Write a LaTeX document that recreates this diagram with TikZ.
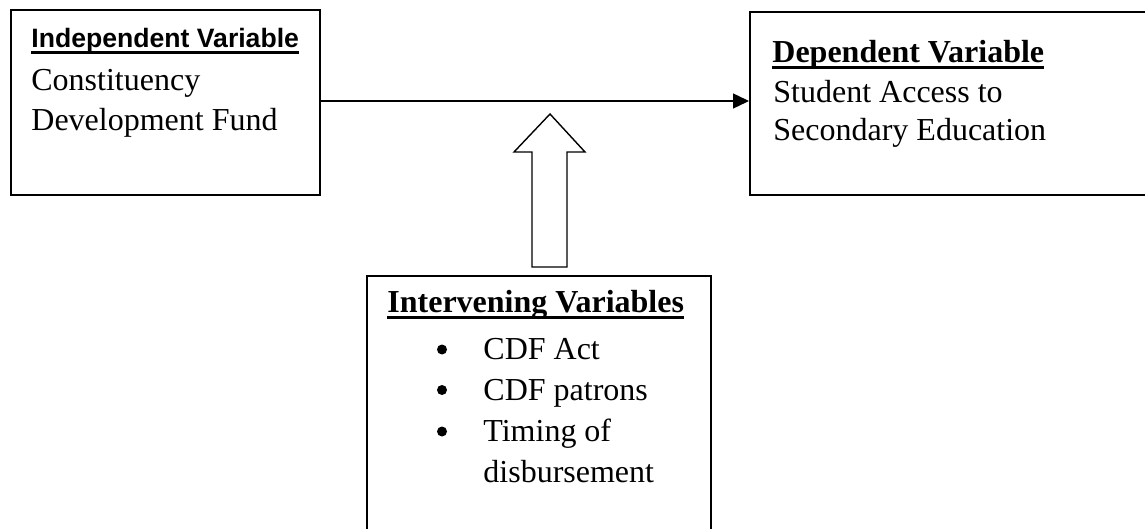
\documentclass[tikz,border=0pt]{standalone}
\usepackage{fontspec}
\setmainfont{Liberation Serif}
\newfontfamily\arialf{Liberation Sans}
\usetikzlibrary{arrows.meta}
\newcommand\myul[1]{\setbox0\hbox{#1}\rlap{\rule[-3.1pt]{\wd0}{1.6pt}}\box0}
\begin{document}
\begin{tikzpicture}[x=0.5pt,y=-0.5pt,
  box/.style={draw, line width=1pt, inner sep=0pt, anchor=north west},
  txt/.style={inner sep=0pt, anchor=base west, font=\fontsize{16}{19}\selectfont},
  sanshead/.style={inner sep=0pt, anchor=base west, font=\fontsize{13.3}{16}\selectfont\arialf\bfseries},
  bul/.style={circle, fill=black, inner sep=0pt, minimum size=5pt},
  flow/.style={line width=0.7pt, -{Triangle[length=8pt,width=7.5pt]}},
  hollow/.style={draw, line width=0.7pt, fill=white}]
\useasboundingbox (0,0) rectangle (1145,529);
% boxes
\node[box, minimum width=154.5pt, minimum height=92.5pt] (iv) at (10,9) {};
\node[box, minimum width=200.5pt, minimum height=91.5pt] (dv) at (749,11) {};
\node[box, minimum width=172pt, minimum height=130pt] (mv) at (366,275) {};
% texts
\node[sanshead] (ivh) at (31,48) {\myul{Independent Variable}};
\node[txt] (iv1) at (31,91) {Constituency};
\node[txt] (iv2) at (31,131) {Development Fund};
\node[txt] (dvh) at (772,63) {\bfseries\myul{Dependent Variable}};
\node[txt] (dv1) at (773,103) {Student Access to};
\node[txt] (dv2) at (773,141) {Secondary Education};
\node[txt] (mvh) at (387,313) {\bfseries\myul{Intervening Variables}};
\node[bul] (b1) at (442,349.5) {};
\node[bul] (b2) at (442,390) {};
\node[bul] (b3) at (442,431.5) {};
\node[txt] (m1) at (483,359) {CDF Act};
\node[txt] (m2) at (483,400) {CDF patrons};
\node[txt] (m3) at (483,441.5) {Timing of};
\node[txt] (m4) at (483,482) {disbursement};
% connectors
\draw[flow] ([yshift=0.75pt]iv.east) -- ([yshift=0.75pt]iv.east -| dv.west);
\draw[hollow] (532,267) -- (532,152) -- (514,152) -- (550,114) -- (585,152) -- (567,152) -- (567,267) -- cycle;
\end{tikzpicture}
\end{document}
